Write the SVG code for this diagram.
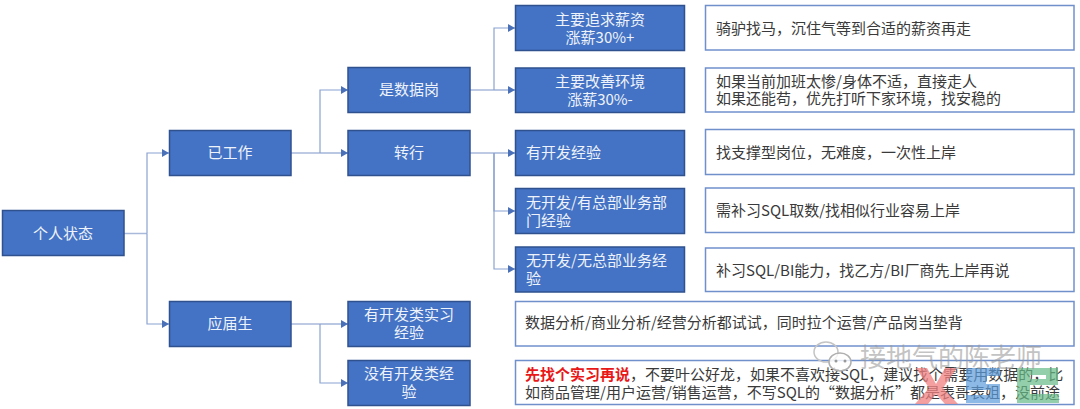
<svg xmlns="http://www.w3.org/2000/svg" width="1080" height="409" viewBox="0 0 1080 409">
<defs>
<style>
text{font-family:"Noto Sans CJK SC","Noto Sans",sans-serif;font-size:15px}
.n rect{fill:#4472c4;stroke:#2f528f;stroke-width:1.5}
.n text{fill:#eef2fa;text-anchor:middle}
.n text.l{text-anchor:start}
.b rect{fill:#fff;stroke:#7090cc;stroke-width:1.5}
.b text{fill:#3a3a3a}
.c path{fill:none;stroke:#a9b9da;stroke-width:1.5}
.c path.a{marker-end:url(#ah);stroke:#8aa2d0;stroke-width:1.2}
.wm{fill:#9a9a9a;font-size:26px;fill-opacity:.6}
</style>
<marker id="ah" markerUnits="userSpaceOnUse" markerWidth="8" markerHeight="8" refX="7" refY="4" orient="auto"><path d="M0 0L7 4L0 8Z" fill="#4a70b8"/></marker>
</defs>
<rect width="1080" height="409" fill="#fff"/>
<g id="connectors" class="c">
<path d="M124 233.500H147"/>
<path class="a" d="M147 233.500V153H169"/>
<path class="a" d="M147 233.500V324H169"/>
<path d="M291 153H320"/>
<path class="a" d="M320 153V90H348"/>
<path class="a" d="M320 153H348"/>
<path d="M470 90H494"/>
<path class="a" d="M494 90V28H515"/>
<path class="a" d="M494 90H515"/>
<path d="M470 153H494"/>
<path class="a" d="M494 153H515"/>
<path class="a" d="M494 153V211H515"/>
<path class="a" d="M494 153V269H515"/>
<path d="M291 324H320"/>
<path class="a" d="M320 324H348"/>
<path class="a" d="M320 324V383H348"/>
</g>
<g id="root" class="n"><rect x="2.500" y="210.500" width="121.500" height="45"/><text x="63" y="239">个人状态</text></g>
<g id="working" class="n"><rect x="169.500" y="130.500" width="121.500" height="45"/><text x="230" y="158">已工作</text></g>
<g id="graduate" class="n"><rect x="169.500" y="301.500" width="121.500" height="45"/><text x="230" y="329">应届生</text></g>
<g id="data-job" class="n"><rect x="348" y="67.500" width="122" height="45"/><text x="409" y="95">是数据岗</text></g>
<g id="switch" class="n"><rect x="348" y="130.500" width="122" height="45"/><text x="409" y="158">转行</text></g>
<g id="intern" class="n"><rect x="348" y="301.500" width="122" height="45"/><text x="409" y="320">有开发类实习</text><text x="409" y="338">经验</text></g>
<g id="no-intern" class="n"><rect x="348" y="360.500" width="122" height="45"/><text x="409" y="379">没有开发类经</text><text x="409" y="397">验</text></g>
<g id="salary" class="n"><rect x="515.500" y="5.500" width="169" height="45"/><text x="600" y="25">主要追求薪资</text><text x="600" y="43">涨薪30%+</text></g>
<g id="env" class="n"><rect x="515.500" y="68" width="169" height="44.500"/><text x="600" y="87">主要改善环境</text><text x="600" y="105">涨薪30%-</text></g>
<g id="dev" class="n"><rect x="515.500" y="130.500" width="169" height="45"/><text class="l" x="526" y="158">有开发经验</text></g>
<g id="hq" class="n"><rect x="515.500" y="188.500" width="169" height="45"/><text class="l" x="526" y="208">无开发/有总部业务部</text><text class="l" x="526" y="226">门经验</text></g>
<g id="no-hq" class="n"><rect x="515.500" y="247" width="169" height="45"/><text class="l" x="526" y="266">无开发/无总部业务经</text><text class="l" x="526" y="284">验</text></g>
<g id="t1" class="b"><rect x="705.500" y="5.500" width="368.500" height="44.500"/><text x="716" y="34">骑驴找马，沉住气等到合适的薪资再走</text></g>
<g id="t2" class="b"><rect x="705.500" y="68" width="368.500" height="44"/><text x="716" y="87">如果当前加班太惨/身体不适，直接走人</text><text x="716" y="104">如果还能苟，优先打听下家环境，找安稳的</text></g>
<g id="t3" class="b"><rect x="705.500" y="129.500" width="368.500" height="45"/><text x="716" y="158">找支撑型岗位，无难度，一次性上岸</text></g>
<g id="t4" class="b"><rect x="705.500" y="188" width="368.500" height="44.500"/><text x="716" y="216">需补习SQL取数/找相似行业容易上岸</text></g>
<g id="t5" class="b"><rect x="705.500" y="248" width="368.500" height="43.500"/><text x="716" y="276">补习SQL/BI能力，找乙方/BI厂商先上岸再说</text></g>
<g id="t6" class="b"><rect x="515.500" y="301.500" width="558.500" height="44.500"/><text x="525" y="328">数据分析/商业分析/经营分析都试试，同时拉个运营/产品岗当垫背</text></g>
<g id="t7" class="b"><rect x="515.500" y="360.500" width="558.500" height="44"/><text x="525" y="380"><tspan fill="#e81818" font-weight="700">先找个实习再说</tspan>，不要叶公好龙，如果不喜欢接SQL，建议找个需要用数据的，比</text><text x="525" y="398">如商品管理/用户运营/销售运营，不写SQL的“数据分析”都是表哥表姐，没前途</text></g>
<g id="watermark">
<path d="M916 368L927 368L936 384L945 368L957 368L943 388L958 404L945 404L936 394L928 404L915 404L929 388Z" fill="#f08080" fill-opacity=".75"/>
<path d="M966 368H1000V376H986V384H1000V403H966V395H990V390H966Z" fill="#5b9bdc" fill-opacity=".7"/>
<path d="M1017 368H1058V385H1030V394H1059V403H1017ZM1030 375V379H1046V375Z" fill="#66bb88" fill-opacity=".7" fill-rule="evenodd"/>
<ellipse cx="826" cy="352" rx="12" ry="10" fill="none" stroke="#c4c4c4" stroke-width="1.500"/>
<ellipse cx="840" cy="362" rx="11" ry="9" fill="#fff" fill-opacity=".8" stroke="#b0b0b0" stroke-width="1.500"/>
<circle cx="836" cy="361" r="1.500" fill="#999"/><circle cx="845" cy="361" r="1.500" fill="#999"/>
<text class="wm" x="860" y="367">接地气的陈老师</text>
</g>
</svg>
